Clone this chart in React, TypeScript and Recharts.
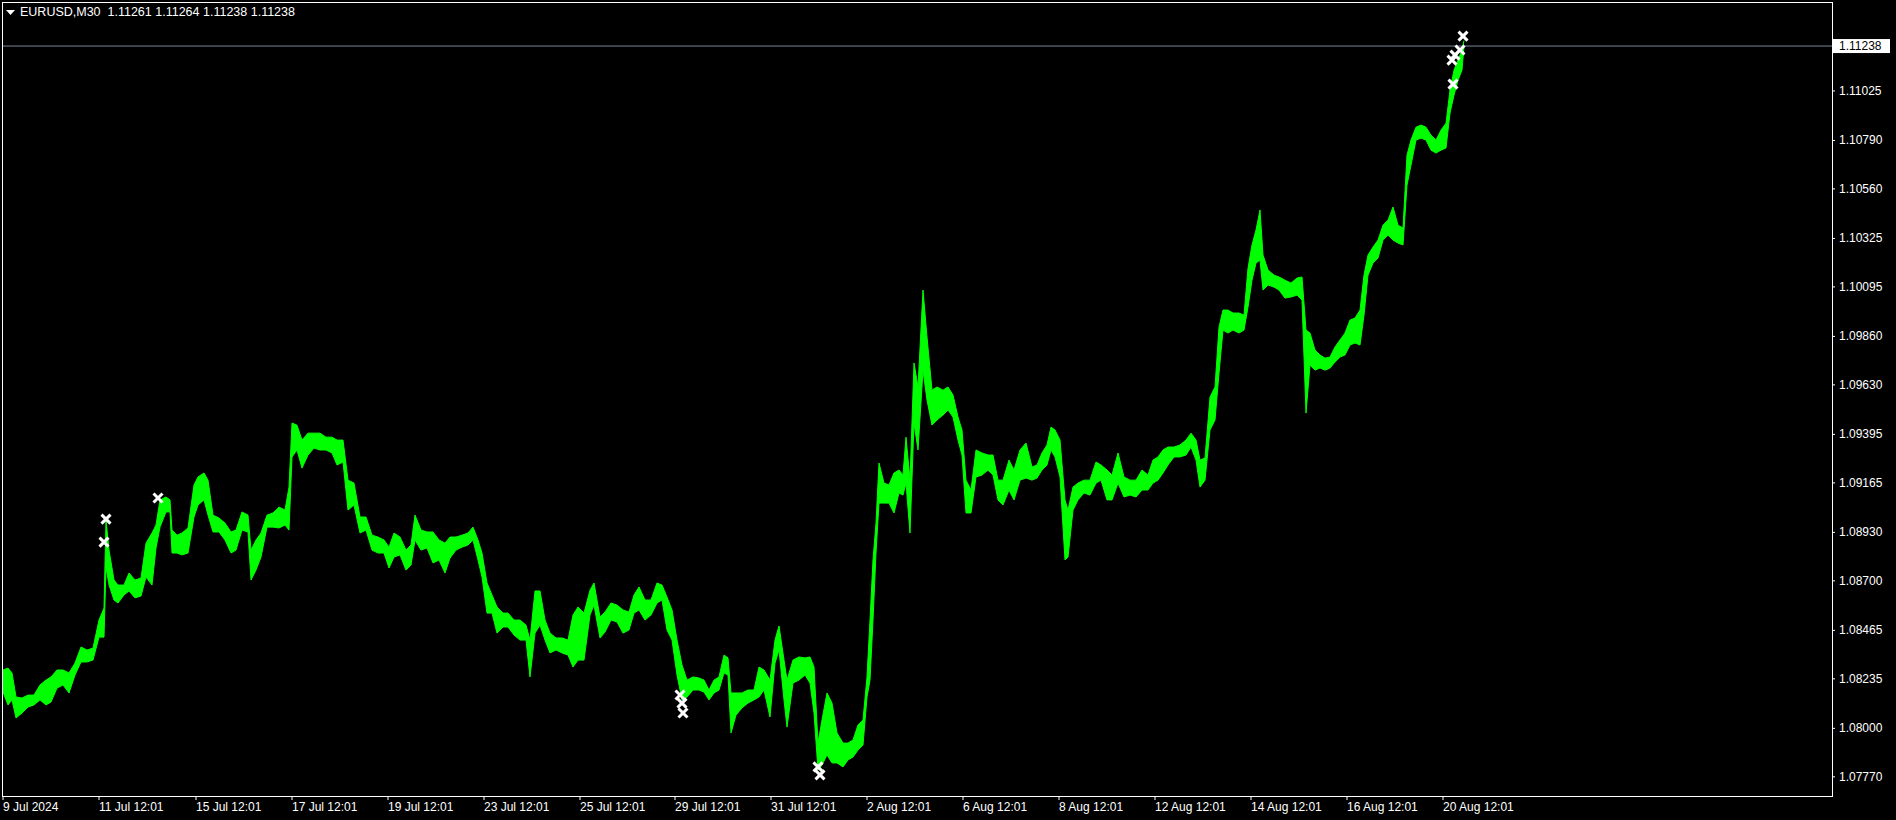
import React from "react";
import { ComposedChart, Area, Scatter, XAxis, YAxis, ReferenceLine } from "recharts";

const FONT = '"Liberation Sans", Arial, sans-serif';
const GREEN = "#00ff00";

// EURUSD M30, sampled bar numbers (bar 0 = first visible bar)
const bars = [
  1, 6, 10, 14, 20, 26, 32, 38, 44, 49,
  55, 61, 67, 73, 79, 85, 91, 97, 102, 104,
  107, 112, 116, 122, 127, 133, 139, 144, 150, 154,
  158, 164, 168, 170, 175, 180, 186, 192, 196, 202,
  206, 211, 217, 223, 229, 234, 240, 246, 249, 254,
  259, 265, 271, 277, 283, 287, 290, 295, 300, 306,
  312, 318, 324, 330, 335, 341, 346, 352, 358, 364,
  370, 376, 382, 387, 392, 398, 404, 409, 413, 419,
  425, 431, 437, 443, 448, 454, 460, 466, 471, 476,
  480, 485, 490, 495, 501, 506, 512, 518, 524, 528,
  533, 538, 543, 548, 554, 560, 566, 571, 576, 582,
  588, 592, 598, 603, 609, 615, 621, 627, 632, 637,
  643, 649, 655, 660, 665, 670, 675, 680, 685, 691,
  697, 702, 707, 712, 717, 722, 726, 729, 734, 740,
  746, 752, 757, 762, 768, 773, 777, 782, 785, 791,
  797, 803, 808, 812, 816, 820, 825, 830, 835, 841,
  846, 851, 856, 861, 865, 868, 871, 874, 877, 882,
  887, 892, 897, 901, 904, 908, 912, 916, 921, 925,
  930, 935, 941, 946, 951, 956, 960, 964, 969, 974,
  980, 986, 991, 996, 1001, 1007, 1012, 1018, 1024, 1030,
  1035, 1040, 1045, 1049, 1053, 1058, 1063, 1066, 1071, 1076,
  1082, 1088, 1094, 1099, 1105, 1110, 1116, 1122, 1128, 1134,
  1140, 1146, 1151, 1156, 1161, 1166, 1172, 1178, 1184, 1189,
  1194, 1198, 1203, 1208, 1213, 1217, 1221, 1226, 1231, 1237,
  1242, 1246, 1250, 1254, 1258, 1261, 1266, 1272, 1277, 1283,
  1289, 1295, 1300, 1304, 1308, 1313, 1318, 1323, 1328, 1333,
  1338, 1343, 1348, 1353, 1358, 1362, 1366, 1371, 1376, 1381,
  1386, 1391, 1396, 1401, 1405, 1409, 1414, 1419, 1424, 1429,
  1434, 1439, 1444, 1448, 1452, 1456, 1460, 1462,
];

const highs = [
  1.08277, 1.08286, 1.08263, 1.08149, 1.08144, 1.08158, 1.08158, 1.08206, 1.08229, 1.08244,
  1.08277, 1.08277, 1.08263, 1.0831, 1.08386, 1.08372, 1.08381, 1.08514, 1.08571, 1.08989,
  1.08846, 1.08704, 1.0868, 1.0868, 1.08737, 1.08704, 1.08713, 1.08879, 1.08927, 1.08965,
  1.09084, 1.09098, 1.09084, 1.08941, 1.08917, 1.08927, 1.08951, 1.09155, 1.09193, 1.09212,
  1.09178, 1.09012, 1.08998, 1.08974, 1.08932, 1.08941, 1.09027, 1.09012, 1.08846, 1.08894,
  1.08927, 1.09012, 1.09022, 1.0905, 1.09036, 1.09145, 1.09449, 1.09439, 1.09368, 1.09401,
  1.09401, 1.09401, 1.09382, 1.09382, 1.09368, 1.09368, 1.09178, 1.09164, 1.09003, 1.09003,
  1.08917, 1.08908, 1.08894, 1.0886, 1.08927, 1.08908, 1.08846, 1.0887, 1.09012, 1.08941,
  1.08932, 1.08932, 1.08894, 1.08879, 1.08908, 1.08908, 1.08917, 1.08927, 1.08955, 1.08894,
  1.08832, 1.0869, 1.08633, 1.08576, 1.08547, 1.08547, 1.08514, 1.08514, 1.0849, 1.08419,
  1.08652, 1.08652, 1.08514, 1.08452, 1.08429, 1.08429, 1.08419, 1.08538, 1.08576, 1.08547,
  1.08656, 1.0869, 1.08528, 1.08552, 1.08595, 1.08585, 1.08562, 1.08552, 1.08633, 1.08671,
  1.08609, 1.08609, 1.0869, 1.0868, 1.08623, 1.08562, 1.08419, 1.08301, 1.08229, 1.08244,
  1.08239, 1.08229, 1.08182, 1.08229, 1.08244, 1.08348, 1.08334, 1.08168, 1.08168, 1.08168,
  1.08182, 1.08182, 1.08291, 1.08277, 1.08229, 1.08419, 1.08486, 1.08324, 1.08229, 1.08324,
  1.08339, 1.08334, 1.08339, 1.08291, 1.0793, 1.0804, 1.08168, 1.0812, 1.07978, 1.0793,
  1.0793, 1.07945, 1.08016, 1.0804, 1.08244, 1.08514, 1.08799, 1.08974, 1.09259, 1.09164,
  1.09155, 1.09212, 1.09226, 1.09202, 1.09382, 1.09178, 1.09734, 1.0962, 1.1008, 1.09857,
  1.09605, 1.0962, 1.09605, 1.0962, 1.09582, 1.09477, 1.09416, 1.09178, 1.09131, 1.09321,
  1.09307, 1.09297, 1.09297, 1.09178, 1.09178, 1.09273, 1.09226, 1.09321, 1.09354, 1.0924,
  1.0925, 1.09307, 1.09345, 1.0943, 1.09416, 1.09368, 1.09084, 1.09036, 1.09145, 1.09164,
  1.09178, 1.09178, 1.09264, 1.0925, 1.09226, 1.09202, 1.09307, 1.09193, 1.09178, 1.09178,
  1.09226, 1.09202, 1.09273, 1.09288, 1.09321, 1.09335, 1.09335, 1.09345, 1.09368, 1.09401,
  1.09368, 1.09273, 1.09283, 1.09572, 1.0962, 1.09904, 1.09985, 1.09985, 1.09971, 1.09971,
  1.09961, 1.10184, 1.10294, 1.10365, 1.1046, 1.10246, 1.10175, 1.10151, 1.10142, 1.10127,
  1.10113, 1.10137, 1.10142, 1.0989, 1.09876, 1.09795, 1.09772, 1.09757, 1.09762, 1.0981,
  1.09843, 1.09876, 1.09938, 1.09947, 1.09985, 1.10151, 1.10246, 1.10284, 1.10317, 1.10388,
  1.10412, 1.10474, 1.10388, 1.10374, 1.10721, 1.10792, 1.10853, 1.10863, 1.10853, 1.10815,
  1.10792, 1.10839, 1.10872, 1.11029, 1.11124, 1.11171, 1.11219, 1.11264,
];

const lows = [
  1.08172, 1.08111, 1.08135, 1.08049, 1.08073, 1.08101, 1.08111, 1.08135, 1.08111, 1.08125,
  1.08191, 1.08206, 1.08168, 1.08253, 1.08315, 1.08315, 1.08324, 1.08433, 1.08433, 1.08766,
  1.0868, 1.08609, 1.08595, 1.08633, 1.08652, 1.08619, 1.08628, 1.08718, 1.0868, 1.08856,
  1.08955, 1.09027, 1.09027, 1.08832, 1.08832, 1.08823, 1.08832, 1.09003, 1.0906, 1.09084,
  1.09012, 1.08932, 1.08932, 1.08894, 1.08832, 1.08846, 1.08941, 1.08932, 1.08704, 1.08751,
  1.08813, 1.08955, 1.08955, 1.08951, 1.08965, 1.08941, 1.09288, 1.09321, 1.09235, 1.09297,
  1.0933, 1.09321, 1.09321, 1.09307, 1.0925, 1.09264, 1.09036, 1.0906, 1.08927, 1.08941,
  1.08846, 1.08832, 1.08832, 1.08761, 1.08813, 1.08823, 1.08751, 1.08775, 1.08894, 1.08846,
  1.08856, 1.08785, 1.08799, 1.08737, 1.08808, 1.08846, 1.0886, 1.0887, 1.08894, 1.08799,
  1.08718, 1.08547, 1.08547, 1.08452, 1.08481, 1.08481, 1.08443, 1.08419, 1.08419, 1.08244,
  1.08452, 1.0849, 1.08419, 1.08358, 1.08372, 1.08358, 1.08348, 1.08291, 1.08324, 1.08324,
  1.08538, 1.08585, 1.08429, 1.08457, 1.08514, 1.08505, 1.08452, 1.08467, 1.08547, 1.08562,
  1.08514, 1.08538, 1.08595, 1.08609, 1.08467, 1.08419, 1.08253, 1.08135, 1.08149, 1.08182,
  1.08182, 1.08172, 1.08135, 1.08168, 1.08182, 1.08263, 1.08253, 1.07978, 1.08063, 1.08097,
  1.0812, 1.08135, 1.08149, 1.08182, 1.08054, 1.0831, 1.08372, 1.08135, 1.08006, 1.08215,
  1.08229, 1.08253, 1.08215, 1.08073, 1.07802, 1.07826, 1.07874, 1.07836, 1.07836, 1.07817,
  1.0785, 1.07864, 1.07897, 1.07921, 1.08149, 1.08229, 1.08514, 1.08832, 1.09069, 1.09069,
  1.09069, 1.09022, 1.09117, 1.09107, 1.09164, 1.08927, 1.09449, 1.09321, 1.097, 1.09558,
  1.09439, 1.09463, 1.09487, 1.09511, 1.09477, 1.09368, 1.09297, 1.09022, 1.09022, 1.09193,
  1.09202, 1.09226, 1.09202, 1.09084, 1.0906, 1.09131, 1.09084, 1.09178, 1.09188, 1.09178,
  1.09188, 1.09226, 1.0925, 1.09321, 1.09288, 1.09193, 1.08799, 1.08813, 1.09036, 1.09084,
  1.09117, 1.09107, 1.09164, 1.09178, 1.09084, 1.09084, 1.09164, 1.09098, 1.09107, 1.09098,
  1.09131, 1.09131, 1.09164, 1.09178, 1.09212, 1.0925, 1.09288, 1.09288, 1.09297, 1.09335,
  1.09273, 1.09145, 1.09178, 1.09416, 1.09463, 1.09686, 1.0989, 1.09876, 1.0989, 1.09876,
  1.0989, 1.09999, 1.10127, 1.10208, 1.10222, 1.1008, 1.10104, 1.10094, 1.1008, 1.10042,
  1.10047, 1.10056, 1.10033, 1.09496, 1.09724, 1.097, 1.0971, 1.097, 1.0971, 1.09738,
  1.09762, 1.09772, 1.09819, 1.09829, 1.09819, 1.09961, 1.10151, 1.10208, 1.10232, 1.10317,
  1.10341, 1.10317, 1.10303, 1.10294, 1.10578, 1.10673, 1.10792, 1.10801, 1.10792, 1.10744,
  1.1073, 1.10744, 1.10754, 1.1092, 1.11005, 1.11076, 1.11124, 1.11238,
];

// trade markers (bar number, price)
const markBars = [104, 102, 156, 678, 680, 681, 816, 818, 1450, 1451, 1453, 1458, 1461];
const markPrices = [
  1.08993, 1.08884, 1.09093, 1.08158, 1.0812, 1.08073, 1.07817, 1.07779,
  1.11171, 1.11057, 1.11195, 1.11219, 1.11285,
];

const dateTicks = [1, 97, 194, 290, 386, 482, 578, 673, 769, 865, 961, 1057, 1153, 1249, 1345, 1441];
const dateLabels = [
  "9 Jul 2024", "11 Jul 12:01", "15 Jul 12:01", "17 Jul 12:01", "19 Jul 12:01",
  "23 Jul 12:01", "25 Jul 12:01", "29 Jul 12:01", "31 Jul 12:01", "2 Aug 12:01",
  "6 Aug 12:01", "8 Aug 12:01", "12 Aug 12:01", "14 Aug 12:01", "16 Aug 12:01",
  "20 Aug 12:01",
];

const lastPrice = 1.11238;
const priceTicks = [
  1.0777, 1.08, 1.08235, 1.08465, 1.087, 1.0893, 1.09165, 1.09395,
  1.0963, 1.0986, 1.10095, 1.10325, 1.1056, 1.1079, 1.11025, lastPrice,
];
const ohlc = [1.11261, 1.11264, 1.11238, 1.11238];

const rows = bars.map((b, k) => ({ bar: b, range: [lows[k], highs[k]] }));
const marks = markBars.map((b, k) => ({ bar: b, price: markPrices[k] }));

function DateTick({ x, y, payload }: any) {
  const k = dateTicks.indexOf(payload.value);
  return (
    <text x={x} y={y + 9} fill="#fff" fontSize={12} fontFamily={FONT}>
      {dateLabels[k]}
    </text>
  );
}

function PriceTick({ x, y, payload }: any) {
  const v: number = payload.value;
  if (v === lastPrice) {
    return (
      <g>
        <rect x={x - 6} y={y - 7} width={57} height={14} fill="#fff" />
        <text x={x} y={y + 4} fill="#000" fontSize={12} fontFamily={FONT}>
          {v.toFixed(5)}
        </text>
      </g>
    );
  }
  return (
    <text x={x} y={y + 4} fill="#fff" fontSize={12} fontFamily={FONT}>
      {v.toFixed(5)}
    </text>
  );
}

function Cross({ cx, cy }: any) {
  const s = 4.5;
  return (
    <g stroke="#fff" strokeWidth={3}>
      <line x1={cx - s} y1={cy - s} x2={cx + s} y2={cy + s} />
      <line x1={cx - s} y1={cy + s} x2={cx + s} y2={cy - s} />
    </g>
  );
}

export default function App() {
  return (
    <div
      style={{
        position: "fixed",
        left: 0,
        top: 0,
        width: 1896,
        height: 820,
        background: "#000",
      }}
    >
      <ComposedChart
        width={1896}
        height={820}
        data={rows}
        margin={{ top: 2, right: 0, bottom: 0, left: 2 }}
      >
        <XAxis
          dataKey="bar"
          type="number"
          domain={[0, 1830]}
          ticks={dateTicks}
          interval={0}
          height={24}
          axisLine={false}
          tickLine={{ stroke: "#fff" }}
          tickSize={4}
          tickMargin={2}
          tick={<DateTick />}
          allowDataOverflow
        />
        <YAxis
          orientation="right"
          type="number"
          domain={[1.07679, 1.11447]}
          ticks={priceTicks}
          interval={0}
          width={64}
          axisLine={false}
          tickLine={{ stroke: "#fff" }}
          tickSize={3}
          tickMargin={4}
          tick={<PriceTick />}
          allowDataOverflow
        />
        <ReferenceLine y={lastPrice} stroke="#778899" />
        <Area
          dataKey="range"
          type="linear"
          stroke={GREEN}
          strokeWidth={1}
          fill={GREEN}
          fillOpacity={1}
          dot={false}
          activeDot={false}
          isAnimationActive={false}
        />
        <Scatter data={marks} dataKey="price" shape={<Cross />} isAnimationActive={false} />
      </ComposedChart>
      <div
        style={{
          position: "absolute",
          left: 2,
          top: 2,
          width: 1831,
          height: 795,
          boxSizing: "border-box",
          border: "1px solid #fff",
          pointerEvents: "none",
        }}
      />
      <svg
        width={20}
        height={20}
        style={{ position: "absolute", left: 0, top: 0 }}
      >
        <polygon points="6,10 15,10 10.5,15" fill="#fff" />
      </svg>
      <div
        style={{
          position: "absolute",
          left: 20,
          top: 5,
          color: "#fff",
          fontFamily: FONT,
          fontSize: 12.5,
          lineHeight: "14px",
          whiteSpace: "pre",
        }}
      >
        {"EURUSD,M30  " + ohlc.map((v) => v.toFixed(5)).join(" ")}
      </div>
    </div>
  );
}
